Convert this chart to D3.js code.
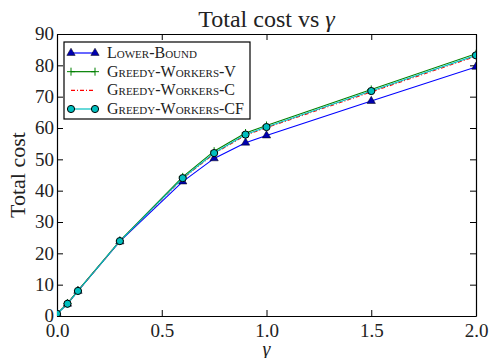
<!DOCTYPE html>
<html lang="en">
<head>
<meta charset="UTF-8">
<title>Total cost vs gamma</title>
<style>
  body { margin: 0; background: #fff; }
  svg text { font-family: "Liberation Serif", "Times New Roman", serif; fill: #222; }
  .axis path, .axis line { stroke: #000; }
  .legend text { font-variant: small-caps; font-size: 16px; }
</style>
</head>
<body>
<div id="chart"></div>
<script src="https://d3js.org/d3.v7.min.js"></script>
<script>
// gamma values (x)
const gammas = [0, 0.05, 0.1, 0.3, 0.6, 0.75, 0.9, 1.0, 1.5, 2.0];

// total cost per series
const lowerBound      = [0.7, 3.9, 8.0, 23.8, 42.9, 50.3, 55.3, 57.6, 68.6, 79.5];
const greedyWorkersV  = [0.7, 4.0, 8.1, 24.0, 44.4, 52.6, 58.4, 60.8, 72.3, 83.7];
const greedyWorkersC  = [0.7, 3.9, 8.0, 23.9, 43.9, 51.8, 57.7, 60.1, 71.5, 82.9];
const greedyWorkersCF = [0.7, 3.9, 8.0, 23.9, 44.0, 52.0, 57.9, 60.3, 71.8, 83.2];

const xTicks = [0, 0.5, 1.0, 1.5, 2.0];
const yTicks = [0, 10, 20, 30, 40, 50, 60, 70, 80, 90];

const seriesNames = ["Lower-Bound", "Greedy-Workers-V", "Greedy-Workers-C", "Greedy-Workers-CF"];

const W = 489, H = 358;
const margin = { top: 34, right: 13, bottom: 42, left: 57 };
const width = W - margin.left - margin.right,
      height = H - margin.top - margin.bottom;
const FONT = "Liberation Serif, Times New Roman, serif";

const svg = d3.select("#chart").append("svg")
    .attr("width", W)
    .attr("height", H)
    .attr("font-family", FONT);

const g = svg.append("g")
    .attr("transform", "translate(" + margin.left + "," + margin.top + ")");

const x = d3.scaleLinear().domain([0, 2]).range([0, width]);
const y = d3.scaleLinear().domain([0, 90]).range([height, 0]);

// clip so markers on the edge are cut like matplotlib
g.append("clipPath").attr("id", "clip")
  .append("rect").attr("width", width).attr("height", height);

// axes with inward ticks on all four sides
const fmtX = d3.format(".1f");
g.append("g").attr("class", "axis")
    .attr("transform", "translate(0," + height + ")")
    .call(d3.axisBottom(x).tickValues(xTicks).tickFormat(fmtX).tickSizeInner(-6).tickSizeOuter(0).tickPadding(8))
    .call(a => a.attr("font-family", FONT).selectAll("text").style("font-size", "19px").attr("dy", "0.71em"));
g.append("g").attr("class", "axis")
    .call(d3.axisTop(x).tickValues(xTicks).tickFormat("").tickSizeInner(-6).tickSizeOuter(0));
g.append("g").attr("class", "axis")
    .call(d3.axisLeft(y).tickValues(yTicks).tickSizeInner(-6).tickSizeOuter(0).tickPadding(3))
    .call(a => a.attr("font-family", FONT).selectAll("text").style("font-size", "19px").attr("dy", "0.3em"));
g.append("g").attr("class", "axis")
    .attr("transform", "translate(" + width + ",0)")
    .call(d3.axisRight(y).tickValues(yTicks).tickFormat("").tickSizeInner(-6).tickSizeOuter(0));

g.selectAll(".axis path").attr("stroke-width", 1.2);

// titles
svg.append("text")
    .attr("x", margin.left + width / 2).attr("y", 27)
    .attr("text-anchor", "middle").style("font-size", "24px")
    .html('Total cost vs <tspan font-style="italic">γ</tspan>');
svg.append("text")
    .attr("x", margin.left + width / 2).attr("y", 356)
    .attr("text-anchor", "middle").style("font-size", "20px").style("font-style", "italic")
    .text("γ");
svg.append("text")
    .attr("transform", "translate(25," + (margin.top + height / 2) + ") rotate(-90)")
    .attr("text-anchor", "middle").style("font-size", "22px")
    .text("Total cost");

// series
const series = [
  { name: seriesNames[0], values: lowerBound, color: "#0000ff", dash: null, marker: "tri" },
  { name: seriesNames[1], values: greedyWorkersV, color: "#008000", dash: null, marker: "plus" },
  { name: seriesNames[2], values: greedyWorkersC, color: "#ff0000", dash: "4,2,1,2", marker: null },
  { name: seriesNames[3], values: greedyWorkersCF, color: "#00bfbf", dash: null, marker: "circle" }
];

const line = d3.line().x(d => x(d[0])).y(d => y(d[1]));
const plot = g.append("g").attr("clip-path", "url(#clip)");

function drawMarker(sel, type, color) {
  if (type === "tri") {
    sel.append("path")
      .attr("d", d3.symbol().type(d3.symbolTriangle).size(30)())
      .attr("fill", "#0000b0").attr("stroke", "#000").attr("stroke-width", 0.5);
  } else if (type === "plus") {
    sel.append("path").attr("d", "M-4,0H4M0,-4V4")
      .attr("stroke", color).attr("stroke-width", 1);
  } else if (type === "circle") {
    sel.append("circle").attr("r", 3.6)
      .attr("fill", color).attr("stroke", "#000").attr("stroke-width", 1);
  }
}

series.forEach(s => {
  const pts = gammas.map((gm, i) => [gm, s.values[i]]);
  plot.append("path")
    .datum(pts)
    .attr("d", line)
    .attr("fill", "none")
    .attr("stroke", s.color)
    .attr("stroke-width", 1.1)
    .attr("stroke-dasharray", s.dash);
  if (s.marker) {
    plot.selectAll(null).data(pts).enter().append("g")
      .attr("transform", d => "translate(" + x(d[0]) + "," + y(d[1]) + ")")
      .each(function () { drawMarker(d3.select(this), s.marker, s.color); });
  }
});

// legend
const legend = svg.append("g").attr("class", "legend")
    .attr("transform", "translate(64,42)");
legend.append("rect")
    .attr("width", 186).attr("height", 77)
    .attr("fill", "#fff").attr("stroke", "#000").attr("stroke-width", 1.2);
const rowY = d3.scalePoint().domain(seriesNames).range([11, 67]);
series.forEach(s => {
  const row = legend.append("g").attr("transform", "translate(0," + rowY(s.name) + ")");
  row.append("line").attr("x1", 7).attr("x2", 31)
    .attr("stroke", s.color).attr("stroke-width", 1.2)
    .attr("stroke-dasharray", s.dash);
  if (s.marker) {
    [7, 31].forEach(mx => {
      const m = row.append("g").attr("transform", "translate(" + mx + ",0)");
      drawMarker(m, s.marker, s.color);
    });
  }
  row.append("text").attr("x", 43).attr("y", 5).text(s.name);
});
</script>
</body>
</html>
